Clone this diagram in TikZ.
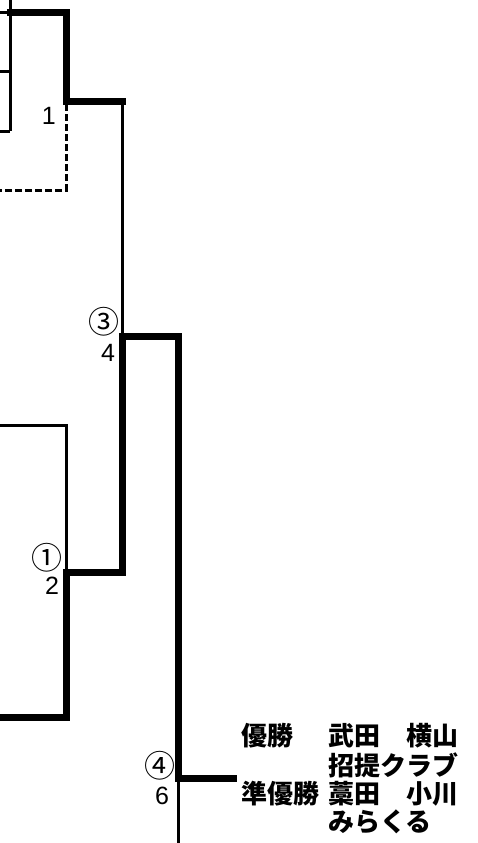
\documentclass[tikz,border=0pt]{standalone}
\usepackage{fontspec}
\setmainfont{Liberation Sans}
\newfontfamily\jp{Noto Sans CJK JP}
\usetikzlibrary{positioning}

\begin{document}
\begin{tikzpicture}[x=1pt,y=-1pt,
  winline/.style={line width=7pt,line join=miter,line cap=rect},
  plainline/.style={line width=3pt},
  byeline/.style={line width=3pt,dash pattern=on 7pt off 3pt},
  seednum/.style={font=\fontsize{25}{25}\selectfont,inner sep=0pt},
  gamenum/.style={font=\jp\fontsize{31}{31}\selectfont,inner sep=0pt},
  result/.style={font=\jp\bfseries\fontsize{26}{26}\selectfont,inner sep=0pt,anchor=west}
]
  \useasboundingbox (0,0) rectangle (477,843);

  % Top block
  \coordinate (t0) at (10,0);
  \coordinate (t1) at (10,13);
  \coordinate (t2) at (10,72);
  \coordinate (t3) at (10,131);
  \coordinate (a1) at (66,13);
  \coordinate (a2) at (66,101);
  \coordinate (b1) at (122,101);
  \draw[plainline] (t0) -- (t3);
  \draw[plainline] (0,13) -- (t1);
  \draw[plainline] (0,72) -- (t2);
  \draw[plainline] (0,131) -- (t3);
  \draw[winline] (t1) -- (a1) -- (a2) -- (b1);
  \coordinate (d1) at (66,104);
  \coordinate (d2) at (66,190);
  \coordinate (d3) at (0,190);
  \draw[byeline] (d1) -- (d2) -- (d3);
  \node[seednum,anchor=east] (s1) at (56,116) {1};

  % Middle block
  \coordinate (m1) at (0,425);
  \coordinate (m2) at (66,425);
  \coordinate (m3) at (66,572);
  \coordinate (m4) at (0,717);
  \coordinate (m5) at (66,717);
  \coordinate (c1) at (122,572);
  \draw[plainline] (m1) -- (m2) -- (m3);
  \draw[winline] (m4) -- (m5) -- (m3) -- (c1);
  \node[gamenum] (g1) at (47,558) {①};
  \node[seednum] (s2) at (52,586) {2};

  % Semi-final
  \coordinate (c2) at (122,336);
  \coordinate (e1) at (178,336);
  \coordinate (e2) at (178,778);
  \coordinate (f1) at (233,778);
  \coordinate (f2) at (178,843);
  \draw[plainline] (b1) -- (c2);
  \draw[winline] (c1) -- (c2) -- (e1) -- (e2) -- (f1);
  \node[gamenum] (g3) at (104,322) {③};
  \node[seednum] (s4) at (108,353) {4};

  % Final
  \draw[plainline] (e2) -- (f2);
  \node[gamenum] (g4) at (160,766) {④};
  \node[seednum] (s6) at (162,796) {6};

  % Results
  \node[result] (win) at (241,736) {優勝};
  \node[result] (winname) at (328,736) {武田　横山};
  \node[result] (winclub) at (328,765) {招提クラブ};
  \node[result] (run) at (241,794) {準優勝};
  \node[result] (runname) at (328,794) {藁田　小川};
  \node[result] (runclub) at (328,822) {みらくる};
\end{tikzpicture}
\end{document}
